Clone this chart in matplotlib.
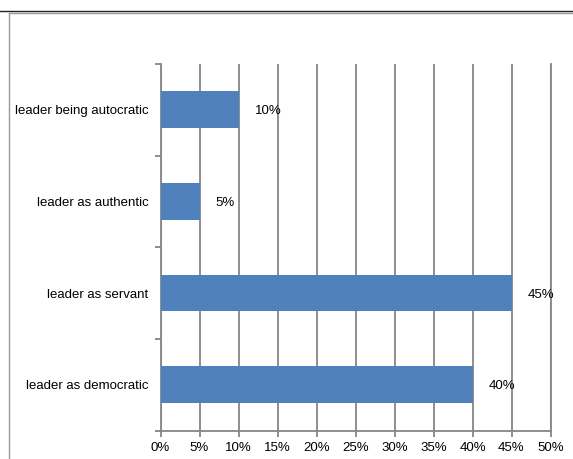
import matplotlib
matplotlib.use("Agg")
import matplotlib.pyplot as plt
from matplotlib.lines import Line2D

categories = ["leader as democratic", "leader as servant", "leader as authentic", "leader being autocratic"]
values = [40, 45, 5, 10]
xticks = [0, 5, 10, 15, 20, 25, 30, 35, 40, 45, 50]

plt.rcParams['font.family'] = ['Liberation Sans', 'DejaVu Sans']

W, H = 573, 459
fig = plt.figure(figsize=(W / 100, H / 100), dpi=100)
ax = fig.add_axes([160.5 / W, 1 - 430.5 / H, 390 / W, 366.5 / H])

gray = '#868686'
blue = '#4F81BD'
fs = 9.5
ypos = list(range(len(categories)))
ax.barh(ypos, values, height=0.4, color=blue, zorder=3)
for y, v in zip(ypos, values):
    ax.annotate(f"{v}%", xy=(v, y), xytext=(11.5, 0), textcoords='offset points',
                ha='left', va='center_baseline', fontsize=fs, zorder=4)

ax.set_xlim(0, 50)
ax.set_ylim(-0.5, len(categories) - 0.5)
ax.set_xticks(xticks)
ax.set_xticklabels([f"{t}%" for t in xticks], fontsize=fs)
ax.set_yticks(ypos)
ax.set_yticklabels(categories, fontsize=fs)
ax.set_yticks([i - 0.5 for i in range(len(categories) + 1)], minor=True)
ax.tick_params(axis='y', which='major', length=0, pad=8.5)
ax.tick_params(axis='y', which='minor', length=4, color=gray, width=1.3, direction='out')
ax.tick_params(axis='x', which='major', length=4, color=gray, width=1.3, direction='out', pad=4)
ax.xaxis.grid(True, color=gray, linewidth=1.3, zorder=0)
ax.set_axisbelow(True)
ax.spines['top'].set_visible(False)
for s in ['left', 'bottom', 'right']:
    ax.spines[s].set_color(gray)
    ax.spines[s].set_linewidth(1.3)

# outer chart frame
fig.add_artist(Line2D([0, 1], [1 - 10.5 / H, 1 - 10.5 / H], color='#222222', linewidth=1.0, transform=fig.transFigure))
fig.add_artist(Line2D([9 / W, 1], [1 - 12.5 / H, 1 - 12.5 / H], color='#999999', linewidth=1.0, transform=fig.transFigure))
fig.add_artist(Line2D([9 / W, 9 / W], [0, 1 - 12.5 / H], color='#999999', linewidth=1.0, transform=fig.transFigure))

fig.savefig("out.png", dpi=100)
